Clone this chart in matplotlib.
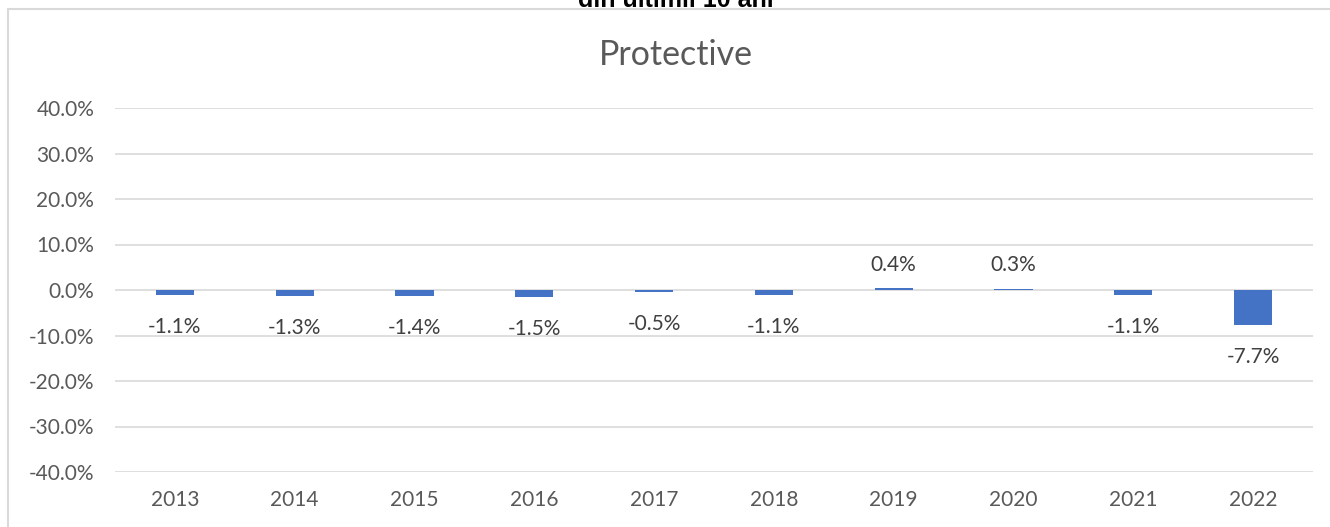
import matplotlib
matplotlib.use("Agg")
import matplotlib.pyplot as plt
from matplotlib.patches import Rectangle
from matplotlib.ticker import FuncFormatter

plt.rcParams['font.family'] = ['Lato', 'DejaVu Sans']

# data
years = ['2013', '2014', '2015', '2016', '2017', '2018', '2019', '2020', '2021', '2022']
values = [-1.1, -1.3, -1.4, -1.5, -0.5, -1.1, 0.4, 0.3, -1.1, -7.7]
title = "Protective"
top_text = "din ultimii 10 ani"

bar_color = '#4472C4'
grid_color = '#D9D9D9'
tick_color = '#595959'
label_color = '#404040'

fig = plt.figure(figsize=(13.3, 5.27), dpi=100)
W, H = 1330, 527

# chart area border
fig.patches.append(Rectangle((8 / W, -0.1), 1.2, 1 - 9 / H + 0.1, transform=fig.transFigure,
                             fill=False, edgecolor=grid_color, linewidth=1.5))

# text from above the chart, clipped by the top edge as in the source
fig.text(676 / W, 1 - 7 / H, top_text, ha='center', va='baseline', fontsize=18,
         fontweight='bold', family=['Liberation Sans', 'DejaVu Sans'], color='black')

ax = fig.add_axes([115 / W, 55 / H, 1198 / W, 364 / H])
x = range(len(years))
ax.bar(x, values, width=0.32, color=bar_color, zorder=3)

ax.set_xlim(-0.5, len(years) - 0.5)
ax.set_ylim(-40, 40)
ax.set_yticks(range(-40, 41, 10))
ax.yaxis.set_major_formatter(FuncFormatter(lambda v, p: f"{v:.1f}%"))
ax.set_xticks(list(x))
ax.set_xticklabels(years)

ax.grid(axis='y', color=grid_color, linewidth=1.2, zorder=0)
for s in ax.spines.values():
    s.set_visible(False)
ax.tick_params(axis='both', length=0, labelsize=15, labelcolor=tick_color)
ax.tick_params(axis='y', pad=15)
ax.tick_params(axis='x', pad=13)

for i, v in zip(x, values):
    off = 17 if v > 0 else -23
    ax.annotate(f"{v:.1f}%", xy=(i, v), xytext=(0, off), textcoords='offset points',
                ha='center', va='center', fontsize=15, color=label_color)

fig.text(676 / W, 1 - 55 / H, title, ha='center', va='center', fontsize=24.5, color=tick_color)

fig.savefig('out.png', dpi=100)
